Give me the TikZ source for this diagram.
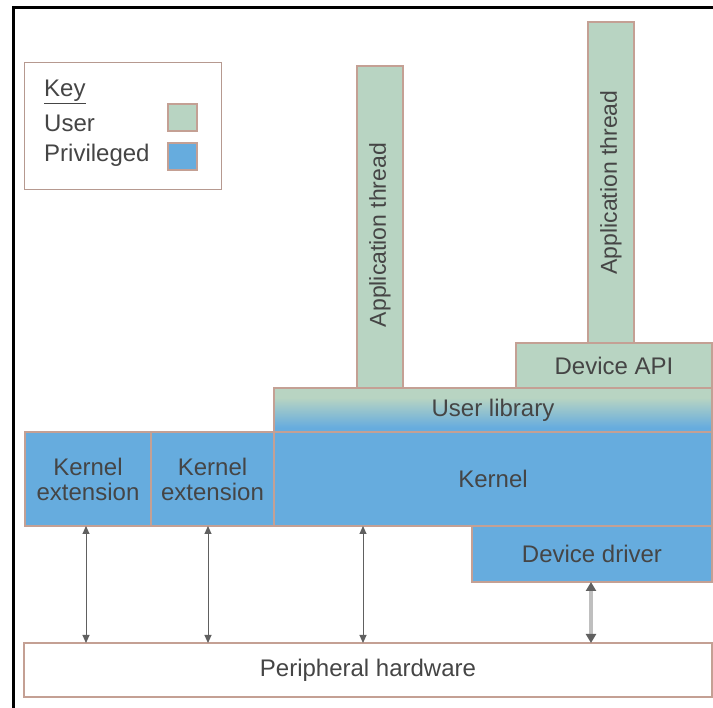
\documentclass[tikz,border=0pt]{standalone}
\usepackage{fontspec}
\setmainfont{Liberation Sans}
\usetikzlibrary{arrows.meta}
\definecolor{ugreen}{HTML}{B8D4C2}
\definecolor{pblue}{HTML}{66ACDE}
\definecolor{edge}{HTML}{C4A094}
\definecolor{txt}{HTML}{454545}
\definecolor{arr}{HTML}{606060}
\pgfdeclareverticalshading{ulibshade}{100bp}{color(0bp)=(pblue); color(25bp)=(pblue); color(30bp)=(pblue); color(64bp)=(ugreen); color(75bp)=(ugreen); color(100bp)=(ugreen)}
\tikzset{
  blk/.style={draw=edge, line width=1.2pt, anchor=north west, inner sep=0pt, outer sep=0pt,
    text=txt, align=center, font=\fontsize{24}{25}\selectfont},
  userblk/.style={blk, fill=ugreen},
  privblk/.style={blk, fill=pblue},
  vtext/.style={text=txt, rotate=90, font=\fontsize{23}{25}\selectfont},
  hwarrow/.style={arr, line width=1pt, {Triangle[length=8pt,width=7pt]}-{Triangle[length=8pt,width=7pt]}},
  hwarrowbig/.style={black!25, line width=3.5pt, {Triangle[length=9pt,width=10pt,color=arr]}-{Triangle[length=9pt,width=10pt,color=arr]}},
  keytxt/.style={anchor=west, text=txt, inner sep=0pt, font=\fontsize{24}{25}\selectfont}
}
\begin{document}
\begin{tikzpicture}[x=1pt,y=-1pt]
\useasboundingbox[fill=white] (0,0) rectangle (713,708);
% outer frame (top and left)
\draw[line width=3pt, black] (13,708) -- (13,8) -- (713,8);
% key
\node[draw=edge!80!gray, line width=1.2pt, anchor=north west, minimum width=197pt, minimum height=127pt, inner sep=0pt] (key) at (24,62) {};
\node[keytxt] (keyt) at (44,92) {\underline{Key}};
\node[keytxt] (usert) at (44,123) {User};
\node[keytxt] (privt) at (44,155) {Privileged};
\node[userblk, minimum width=29pt, minimum height=27pt] (useri) at (168,104) {};
\node[privblk, minimum width=29pt, minimum height=27pt] (privi) at (168,143) {};
% application threads
\node[userblk, minimum width=46pt, minimum height=322pt] (app1) at (357,66) {};
\node[vtext] (app1t) at ([yshift=-8pt]app1.center) {Application thread};
\node[userblk, minimum width=46pt, minimum height=321pt] (app2) at (588,22) {};
\node[vtext] (app2t) at (app2.center) {Application thread};
% device API
\node[userblk, minimum width=196pt, minimum height=45pt] (api) at (516,343) {Device API};
% user library
\node[blk, shading=ulibshade, minimum width=438pt, minimum height=44pt] (ulib) at (274,388) {User library};
% kernel row
\node[privblk, minimum width=126pt, minimum height=94pt] (kext1) at (25,432) {Kernel\\extension};
\node[privblk, minimum width=123pt, minimum height=94pt] (kext2) at (151,432) {Kernel\\extension};
\node[privblk, minimum width=438pt, minimum height=94pt] (kern) at (274,432) {Kernel};
\node[privblk, minimum width=240pt, minimum height=56pt] (drv) at (472,526) {Device driver};
% peripheral hardware
\node[blk, fill=white, minimum width=688pt, minimum height=54pt] (hw) at (24,643) {Peripheral hardware};
% arrows
\coordinate (a1t) at (86,526); \coordinate (a1b) at (86,643);
\coordinate (a2t) at (208,526); \coordinate (a2b) at (208,643);
\coordinate (a3t) at (363,526); \coordinate (a3b) at (363,643);
\coordinate (a4t) at (591,582); \coordinate (a4b) at (591,643);
\draw[hwarrow] (a1t) -- (a1b);
\draw[hwarrow] (a2t) -- (a2b);
\draw[hwarrow] (a3t) -- (a3b);
\draw[hwarrowbig] (a4t) -- (a4b);
\end{tikzpicture}
\end{document}
